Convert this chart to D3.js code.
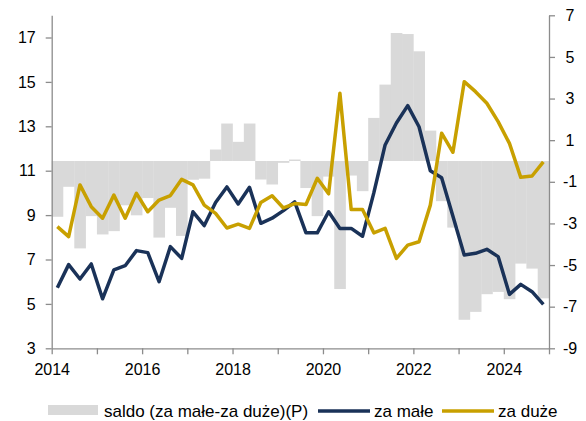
<!DOCTYPE html>
<html><head><meta charset="utf-8">
<script src="https://cdn.jsdelivr.net/npm/d3@7/dist/d3.min.js"></script>
<style>
body{margin:0;background:#fff}
svg{display:block;font-family:"Liberation Sans",Arial,sans-serif}
</style>
</head><body>
<svg id="c" width="586" height="421"></svg>
<script>
const quarters = [
 "2014Q1","2014Q2","2014Q3","2014Q4","2015Q1","2015Q2","2015Q3","2015Q4",
 "2016Q1","2016Q2","2016Q3","2016Q4","2017Q1","2017Q2","2017Q3","2017Q4",
 "2018Q1","2018Q2","2018Q3","2018Q4","2019Q1","2019Q2","2019Q3","2019Q4",
 "2020Q1","2020Q2","2020Q3","2020Q4","2021Q1","2021Q2","2021Q3","2021Q4",
 "2022Q1","2022Q2","2022Q3","2022Q4","2023Q1","2023Q2","2023Q3","2023Q4",
 "2024Q1","2024Q2","2024Q3","2024Q4"];
const saldo = [-2.68,-1.24,-4.2,-2.65,-3.53,-3.37,-2.13,-2.61,-1.78,-3.68,-2.25,-3.6,
 -0.9,-0.85,0.55,1.8,0.92,1.8,-0.89,-1.13,-0.09,0.07,-1.3,-2.65,
 -0.75,-6.15,-0.7,-1.45,2.07,3.67,6.15,6.1,5.27,1.46,-1.93,-3.2,
 -7.63,-7.25,-6.4,-6.29,-6.64,-4.93,-5.17,-6.6];
const zaMale = [5.73,6.77,6.12,6.8,5.23,6.53,6.72,7.4,7.31,6.0,7.58,7.05,
 9.15,8.53,9.57,10.27,9.5,10.25,8.63,8.86,9.2,9.6,8.2,8.2,
 9.15,8.4,8.4,8.05,10.0,12.16,13.15,13.93,12.98,11.0,10.68,8.95,
 7.2,7.28,7.46,7.13,5.43,5.88,5.55,4.98];
const zaDuze = [8.48,8.03,10.36,9.38,8.86,9.9,8.86,9.98,9.15,9.68,9.88,10.61,
 10.36,9.45,9.08,8.42,8.59,8.4,9.57,9.87,9.32,9.52,9.48,10.66,
 9.96,14.49,9.25,9.25,8.2,8.4,7.05,7.65,7.8,9.45,12.69,11.83,
 15.01,14.56,14.04,13.21,12.23,10.7,10.76,11.4];
const leftTicks = [3,5,7,9,11,13,15,17];
const rightTicks = [-9,-7,-5,-3,-1,1,3,5,7];
const yearTicks = [2014,2015,2016,2017,2018,2019,2020,2021,2022,2023,2024,2025];
const yearLabels = [2014,2016,2018,2020,2022,2024];

const svg = d3.select("#c");
const L = 51.7, R = 549, T = 15.3, B = 348.3;
const GRAY_AX = "#8c8c8c", NAVY = "#1a3258", GOLD = "#c8a000", BAR = "#d9d9d9";

const xb = d3.scaleBand().domain(quarters).range([L, R]).padding(0);
const xc = q => xb(q) + xb.bandwidth()/2;
const xy = d3.scaleLinear().domain([2014, 2025]).range([L, R]);
const yL = d3.scaleLinear().domain([3, 18]).range([B, T]);
const yR = d3.scaleLinear().domain([-9, 7]).range([B, T]);

// bars
svg.append("g").selectAll("rect").data(quarters).join("rect")
  .attr("x", q => xb(q))
  .attr("width", xb.bandwidth() + 0.3)
  .attr("y", (q,i) => yR(Math.max(0, saldo[i])))
  .attr("height", (q,i) => Math.abs(yR(saldo[i]) - yR(0)))
  .attr("fill", BAR);

// lines
const line = (arr) => d3.line().x((d,i) => xc(quarters[i])).y(d => yL(d))(arr);
svg.append("path").attr("d", line(zaMale)).attr("fill","none")
  .attr("stroke", NAVY).attr("stroke-width", 3.5).attr("stroke-linejoin","round");
svg.append("path").attr("d", line(zaDuze)).attr("fill","none")
  .attr("stroke", GOLD).attr("stroke-width", 3.5).attr("stroke-linejoin","round");

// axes
function styleAxis(g){
  g.selectAll("path.domain").attr("stroke", GRAY_AX).attr("stroke-width", 1.3);
  g.selectAll(".tick line").attr("stroke", GRAY_AX).attr("stroke-width", 1.3);
  g.selectAll("text").attr("fill", "#000").style("font-size", "16px")
    .style("font-family", '"Liberation Sans",Arial,sans-serif');
}
const gl = svg.append("g").attr("transform", `translate(${L},0)`)
  .call(d3.axisLeft(yL).tickValues(leftTicks).tickSize(6).tickSizeOuter(0).tickPadding(10));
styleAxis(gl);
const gr = svg.append("g").attr("transform", `translate(${R},0)`)
  .call(d3.axisRight(yR).tickValues(rightTicks).tickSize(6).tickSizeOuter(0).tickPadding(8)
    .tickFormat(d => d < 0 ? "-" + Math.abs(d) : String(d)));
styleAxis(gr);
gr.selectAll("text").attr("text-anchor", "middle").attr("x", 21);
const gb = svg.append("g").attr("transform", `translate(0,${B})`)
  .call(d3.axisBottom(xy).tickValues(yearTicks).tickSize(6).tickSizeOuter(0).tickPadding(9)
    .tickFormat(d => yearLabels.includes(d) ? String(d) : ""));
styleAxis(gb);

// legend
const lg = svg.append("g").style("font-size", "17px");
lg.append("rect").attr("x", 48).attr("y", 405).attr("width", 50).attr("height", 10).attr("fill", BAR);
lg.append("text").attr("x", 104).attr("y", 417).text("saldo (za małe-za duże)(P)");
lg.append("line").attr("x1", 318).attr("x2", 370).attr("y1", 411).attr("y2", 411)
  .attr("stroke", NAVY).attr("stroke-width", 3.5);
lg.append("text").attr("x", 374).attr("y", 417).text("za małe");
lg.append("line").attr("x1", 442).attr("x2", 494).attr("y1", 411).attr("y2", 411)
  .attr("stroke", GOLD).attr("stroke-width", 3.5);
lg.append("text").attr("x", 498).attr("y", 417).text("za duże");
</script>
</body></html>
